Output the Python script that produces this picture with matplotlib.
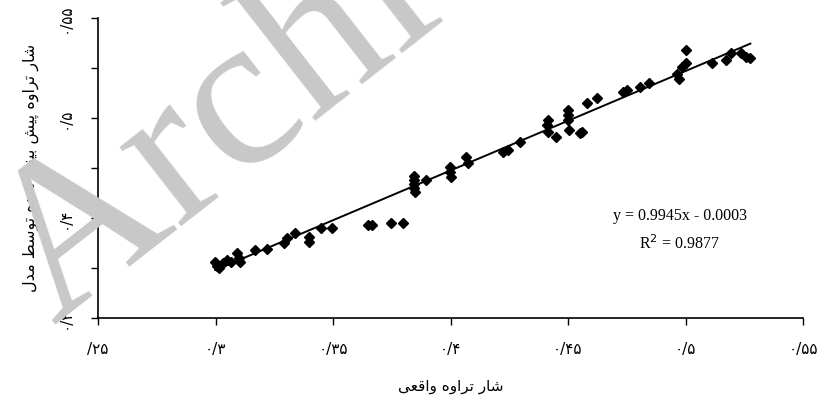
import matplotlib
matplotlib.use("Agg")
import matplotlib.pyplot as plt
import numpy as np

# measured vs. model-predicted permeate flux
actual = [0.2999, 0.3005, 0.3013, 0.3034, 0.3048, 0.3068, 0.3091, 0.3098, 0.3106,
          0.3170, 0.3218, 0.3290, 0.3305, 0.3340, 0.3397, 0.3397, 0.3449, 0.3496,
          0.3647, 0.3668, 0.3747, 0.3796,
          0.3846, 0.3846, 0.3846, 0.3846, 0.3850, 0.3896,
          0.3996, 0.3996, 0.4003, 0.4067, 0.4074, 0.4224, 0.4245, 0.4295,
          0.4409, 0.4416, 0.4416, 0.4451, 0.4501, 0.4501, 0.4501, 0.4505,
          0.4558, 0.4551, 0.4580, 0.4622, 0.4736, 0.4750, 0.4808, 0.4843,
          0.4965, 0.4971, 0.4986, 0.5000, 0.5000, 0.5114, 0.5171, 0.5192,
          0.5235, 0.5256, 0.5276]
predicted = [0.306, 0.302, 0.2997, 0.305, 0.308, 0.306, 0.3147, 0.3097, 0.306,
             0.318, 0.319, 0.3247, 0.3297, 0.3347, 0.3313, 0.3263, 0.3397, 0.3397,
             0.343, 0.343, 0.3447, 0.3447,
             0.392, 0.388, 0.384, 0.380, 0.376, 0.388,
             0.4013, 0.3963, 0.3913, 0.4113, 0.4047, 0.4163, 0.418, 0.4263,
             0.443, 0.4363, 0.448, 0.4313, 0.458, 0.453, 0.448, 0.438,
             0.4363, 0.4347, 0.4647, 0.4697, 0.4763, 0.478, 0.4813, 0.4847,
             0.494, 0.489, 0.5013, 0.5047, 0.518, 0.5047, 0.508, 0.5147,
             0.5147, 0.5113, 0.510]

slope, intercept, r2 = 0.9945, -0.0003, 0.9877

xticks = [0.25, 0.30, 0.35, 0.40, 0.45, 0.50, 0.55]
xtick_labels = ['/۲۵', '۰/۳', '۰/۳۵', '۰/۴', '۰/۴۵', '۰/۵', '۰/۵۵']
yticks = [0.25, 0.30, 0.35, 0.40, 0.45, 0.50, 0.55]
ytick_labels = ['۰/۳', '', '۰/۴', '', '۰/۵', '', '۰/۵۵']

xlabel = 'شار تراوه واقعی'
ylabel = 'شار تراوه پیش بینی شده توسط مدل'

# contextual forms: isolated, final, initial, medial
FORMS = {
    'ا': ('\ufe8d', '\ufe8e', None, None),
    'ب': ('\ufe8f', '\ufe90', '\ufe91', '\ufe92'),
    'پ': ('\ufb56', '\ufb57', '\ufb58', '\ufb59'),
    'ت': ('\ufe95', '\ufe96', '\ufe97', '\ufe98'),
    'د': ('\ufea9', '\ufeaa', None, None),
    'ر': ('\ufead', '\ufeae', None, None),
    'س': ('\ufeb1', '\ufeb2', '\ufeb3', '\ufeb4'),
    'ش': ('\ufeb5', '\ufeb6', '\ufeb7', '\ufeb8'),
    'ط': ('\ufec1', '\ufec2', '\ufec3', '\ufec4'),
    'ع': ('\ufec9', '\ufeca', '\ufecb', '\ufecc'),
    'ق': ('\ufed5', '\ufed6', '\ufed7', '\ufed8'),
    'ل': ('\ufedd', '\ufede', '\ufedf', '\ufee0'),
    'م': ('\ufee1', '\ufee2', '\ufee3', '\ufee4'),
    'ن': ('\ufee5', '\ufee6', '\ufee7', '\ufee8'),
    'ه': ('\ufee9', '\ufeea', '\ufeeb', '\ufeec'),
    'و': ('\ufeed', '\ufeee', None, None),
    'ی': ('\ufbfc', '\ufbfd', '\ufbfe', '\ufbff'),
}


def shape(text):
    # join letters and reverse for left-to-right drawing
    out = []
    for i, ch in enumerate(text):
        if ch not in FORMS:
            out.append(ch)
            continue
        prev = text[i - 1] if i > 0 else ''
        nxt = text[i + 1] if i + 1 < len(text) else ''
        join_prev = prev in FORMS and FORMS[prev][2] is not None
        join_next = nxt in FORMS and FORMS[ch][2] is not None
        iso, fin, ini, med = FORMS[ch]
        if join_prev and join_next:
            out.append(med)
        elif join_prev:
            out.append(fin)
        elif join_next:
            out.append(ini)
        else:
            out.append(iso)
    return ''.join(reversed(out))


plt.rcParams['font.family'] = ['DejaVu Sans']

fig = plt.figure(figsize=(8.19, 4.03), dpi=100)
ax = fig.add_axes([98 / 819, 85 / 403, 705 / 819, 300 / 403])

ax.plot(actual, predicted, linestyle='none', marker='D', markersize=5.5,
        color='black', zorder=3)

xs = np.array([min(actual), max(actual)])
ax.plot(xs, slope * xs + intercept, color='black', linewidth=1.4, zorder=2)

ax.set_xlim(0.25, 0.55)
ax.set_ylim(0.25, 0.55)
ax.set_xticks(xticks)
ax.set_xticklabels(xtick_labels, fontsize=11)
ax.set_yticks(yticks)
ax.set_yticklabels(ytick_labels, fontsize=11, rotation=90, va='center')
ax.tick_params(axis='x', direction='out', length=5, width=1, pad=12)
ax.tick_params(axis='y', direction='out', length=5, width=1, pad=13)

for side in ('top', 'right'):
    ax.spines[side].set_visible(False)
for side in ('left', 'bottom'):
    ax.spines[side].set_linewidth(1.2)

ax.set_xlabel(shape(xlabel), fontsize=11, labelpad=16)
ax.set_ylabel(shape(ylabel), fontsize=11.5, labelpad=14)

ax.text(0.4975, 0.3525, 'y = %.4fx - %.4f' % (slope, abs(intercept)),
        fontsize=11.5, family='Liberation Serif', ha='center', va='center')
ax.text(0.4975, 0.3245, 'R$^2$ = %.4f' % r2, fontsize=11.5,
        family='Liberation Serif', ha='center', va='center')

# watermark
fig.text(0.066, 0.194, 'Archive', fontsize=158, family='Liberation Serif',
         color='#c8c8c8', rotation=38, rotation_mode='anchor',
         ha='left', va='baseline', zorder=5)

fig.savefig('out.png', dpi=100)
